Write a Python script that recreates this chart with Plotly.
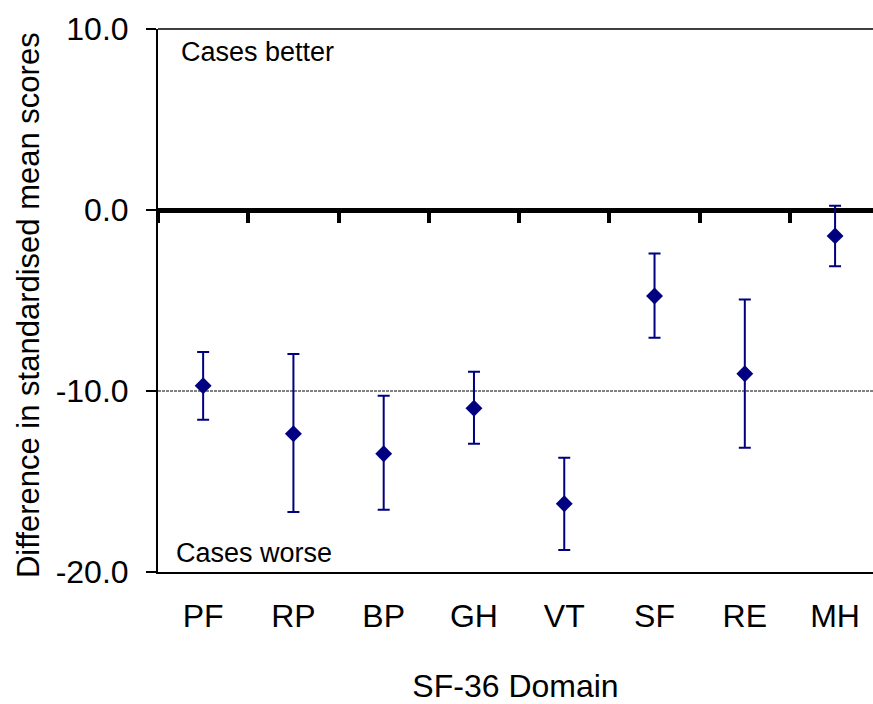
import plotly.graph_objects as go

domains = ["PF", "RP", "BP", "GH", "VT", "SF", "RE", "MH"]
mean_diff = [-9.71, -12.36, -13.47, -10.95, -16.23, -4.75, -9.05, -1.43]
ci_upper = [-7.84, -7.95, -10.26, -8.94, -13.69, -2.41, -4.95, 0.24]
ci_lower = [-11.59, -16.69, -16.56, -12.91, -18.79, -7.06, -13.13, -3.11]
y_ticks = [-20.0, -10.0, 0.0, 10.0]
y_tick_labels = ["-20.0", "-10.0", "0.0", "10.0"]
ref_line = -10.0

err_plus = [u - m for u, m in zip(ci_upper, mean_diff)]
err_minus = [m - l for m, l in zip(mean_diff, ci_lower)]

FONT = "Arial, Liberation Sans, sans-serif"
NAVY = "#000080"

fig = go.Figure()
fig.add_trace(go.Scatter(
    x=domains, y=mean_diff, mode="markers",
    marker=dict(symbol="diamond", size=13, color=NAVY),
    error_y=dict(type="data", symmetric=False, array=err_plus, arrayminus=err_minus,
                 color=NAVY, thickness=2, width=6),
    showlegend=False, hoverinfo="x+y",
))
# invisible trace to carry the zero-line axis
fig.add_trace(go.Scatter(
    x=domains, y=mean_diff, mode="markers", xaxis="x2",
    marker=dict(opacity=0), showlegend=False, hoverinfo="skip",
))

fig.update_layout(
    width=873, height=704,
    margin=dict(l=158, r=0, t=29, b=132, autoexpand=False),
    paper_bgcolor="white", plot_bgcolor="white",
    font=dict(family=FONT, color="black"),
    xaxis=dict(
        type="category", categoryorder="array", categoryarray=domains,
        range=[-0.5, 7.42], showgrid=False, zeroline=False, automargin=False,
        showline=True, linewidth=2, linecolor="black",
        ticks="", tickfont=dict(size=32, family=FONT, color="black"),
        ticklabelstandoff=15,
        title=dict(text="SF-36 Domain", font=dict(size=32, family=FONT, color="black"), standoff=42),
    ),
    xaxis2=dict(
        type="category", categoryorder="array", categoryarray=domains,
        overlaying="x", matches="x", anchor="free", position=20 / 30,
        showgrid=False, zeroline=False, showticklabels=False, automargin=False,
        showline=True, linewidth=5, linecolor="black",
        ticks="outside", tickson="boundaries", ticklen=10, tickwidth=4, tickcolor="black",
        layer="below traces",
    ),
    yaxis=dict(
        range=[-20, 10], tickvals=y_ticks, ticktext=y_tick_labels,
        showgrid=False, zeroline=False, automargin=False,
        showline=True, linewidth=2, linecolor="black",
        ticks="outside", ticklen=10, tickwidth=1.5, tickcolor="black",
        tickfont=dict(size=32, family=FONT, color="black"),
        ticklabelstandoff=11,
    ),
    shapes=[
        dict(type="line", xref="paper", yref="y", x0=0, x1=1, y0=ref_line, y1=ref_line,
             line=dict(color="black", width=1, dash="3px,1px"), layer="below"),
        dict(type="line", xref="paper", yref="paper", x0=0, x1=1, y0=1, y1=1,
             line=dict(color="black", width=1.5), layer="below"),
    ],
    annotations=[
        dict(text="Difference in standardised mean scores", textangle=-90,
             xref="paper", yref="paper", x=-0.1818, y=0.4917,
             xanchor="center", yanchor="middle", showarrow=False,
             font=dict(size=31, family=FONT, color="black")),
        dict(text="Cases better", xref="paper", yref="y", x=0.0294, y=8.73,
             xanchor="left", yanchor="middle", showarrow=False,
             font=dict(size=27, family=FONT, color="black")),
        dict(text="Cases worse", xref="paper", yref="y", x=0.0224, y=-18.97,
             xanchor="left", yanchor="middle", showarrow=False,
             font=dict(size=27, family=FONT, color="black")),
    ],
)

fig.write_html("out.html", config={"displayModeBar": False},
               post_script="document.body.style.margin='0';document.body.style.overflow='hidden';")
